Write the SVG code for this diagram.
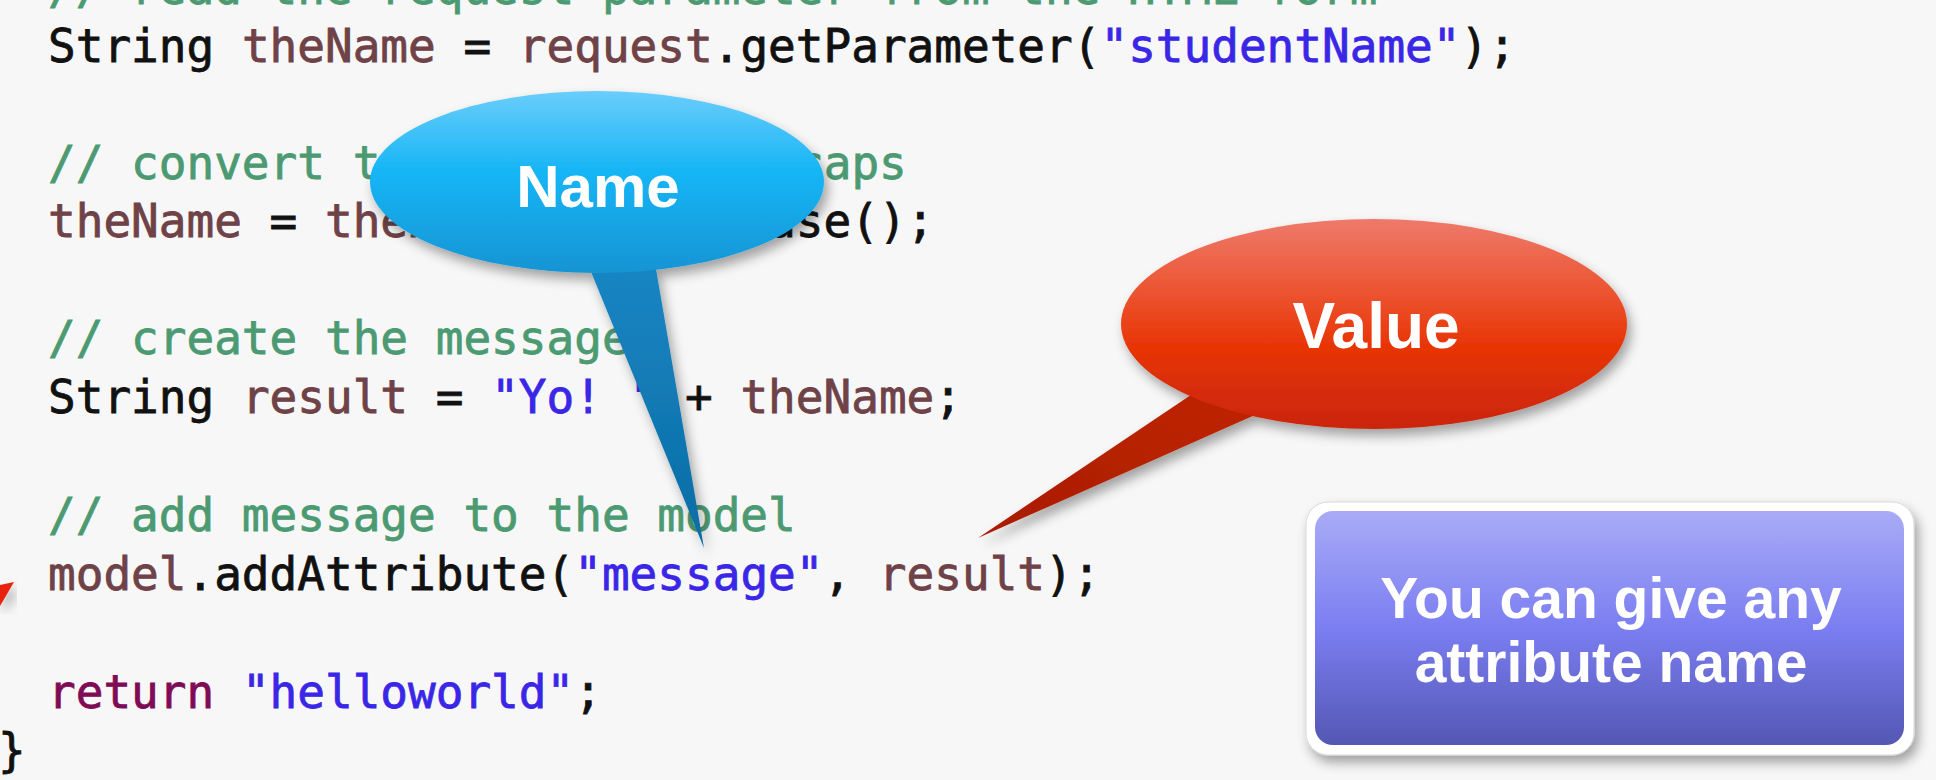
<svg xmlns="http://www.w3.org/2000/svg" width="1936" height="780" viewBox="0 0 1936 780">
  <style>
    .code { font-family: "DejaVu Sans Mono", "Liberation Mono", monospace; font-size: 46px; fill: #111111; stroke: #111111; stroke-width: 0.8px; white-space: pre; }
    .cm { fill: #4c9a72; stroke: #4c9a72; }
    .lv { fill: #6e4247; stroke: #6e4247; }
    .st { fill: #3a26e6; stroke: #3a26e6; }
    .kw { fill: #7f0a55; stroke: #7f0a55; }
    .lbl { font-family: "Liberation Sans", Arial, sans-serif; font-weight: bold; fill: #ffffff; text-anchor: middle; }
  </style>
  <defs>
    <linearGradient id="gBlue" x1="0" y1="0" x2="0" y2="1">
      <stop offset="0" stop-color="#6acdfb"/>
      <stop offset="0.45" stop-color="#14b5f5"/>
      <stop offset="1" stop-color="#1694d4"/>
    </linearGradient>
    <linearGradient id="gBlueTail" x1="0" y1="0" x2="0" y2="1">
      <stop offset="0" stop-color="#1788c6"/>
      <stop offset="1" stop-color="#0d6ca4"/>
    </linearGradient>
    <linearGradient id="gRed" x1="0" y1="0" x2="0" y2="1">
      <stop offset="0" stop-color="#ee7a6a"/>
      <stop offset="0.4" stop-color="#eb4e28"/>
      <stop offset="0.6" stop-color="#e83506"/>
      <stop offset="1" stop-color="#c92508"/>
    </linearGradient>
    <linearGradient id="gRedTail" x1="1" y1="0" x2="0" y2="1">
      <stop offset="0" stop-color="#c42606"/>
      <stop offset="1" stop-color="#a81c04"/>
    </linearGradient>
    <linearGradient id="gBox" x1="0" y1="0" x2="0" y2="1">
      <stop offset="0" stop-color="#a9abf6"/>
      <stop offset="0.5" stop-color="#7b7ef1"/>
      <stop offset="1" stop-color="#5457b3"/>
    </linearGradient>
    <filter id="shadow" x="-20%" y="-20%" width="140%" height="150%">
      <feDropShadow dx="4" dy="7" stdDeviation="6" flood-color="#000000" flood-opacity="0.35"/>
    </filter>
  </defs>

  <rect x="0" y="0" width="1936" height="780" fill="#f7f7f7"/>

  <g id="code">
    <text class="code cm" x="48" y="4">// read the request parameter from the HTML form</text>
    <text class="code" x="48" y="62">String <tspan class="lv">theName</tspan> = <tspan class="lv">request</tspan>.getParameter(<tspan class="st">"studentName"</tspan>);</text>
    <text class="code cm" x="48" y="179">// convert t</text>
    <text class="code cm" x="796" y="179">caps</text>
    <text class="code" x="48" y="237"><tspan class="lv">theName</tspan> = <tspan class="lv">theN</tspan></text>
    <text class="code" x="768" y="237">ase();</text>
    <text class="code cm" x="48" y="354">// create the message</text>
    <text class="code" x="48" y="413">String <tspan class="lv">result</tspan> = <tspan class="st">"Yo! "</tspan> + <tspan class="lv">theName</tspan>;</text>
    <text class="code cm" x="48" y="531">// add message to the model</text>
    <text class="code" x="48" y="590"><tspan class="lv">model</tspan>.addAttribute(<tspan class="st">"message"</tspan>, <tspan class="lv">result</tspan>);</text>
    <text class="code" x="48" y="708"><tspan class="kw">return</tspan> <tspan class="st">"helloworld"</tspan>;</text>
    <text class="code" x="-2" y="766">}</text>
  </g>

  <g id="connectors">
    <polygon points="0,585 14,582 0,606" fill="#e8230a" filter="url(#shadow)"/>
  </g>

  <g id="name-bubble" filter="url(#shadow)">
    <polygon points="578,240 651,240 704,548" fill="url(#gBlueTail)"/>
    <ellipse cx="597" cy="182" rx="227" ry="91" fill="url(#gBlue)"/>
    <text class="lbl" x="598" y="207" font-size="60">Name</text>
  </g>

  <g id="value-bubble" filter="url(#shadow)">
    <polygon points="978,538 1240,362 1300,395" fill="url(#gRedTail)"/>
    <ellipse cx="1374" cy="324" rx="253" ry="105" fill="url(#gRed)"/>
    <text class="lbl" x="1376" y="348" font-size="64">Value</text>
  </g>

  <g id="note-box">
    <rect x="1306" y="502" width="608" height="253" rx="22" fill="#ffffff" stroke="#d8d8d8" stroke-width="1" filter="url(#shadow)"/>
    <rect x="1315" y="511" width="589" height="234" rx="18" fill="url(#gBox)"/>
    <text class="lbl" x="1611" y="618" font-size="57">You can give any</text>
    <text class="lbl" x="1611" y="682" font-size="57">attribute name</text>
  </g>
</svg>
